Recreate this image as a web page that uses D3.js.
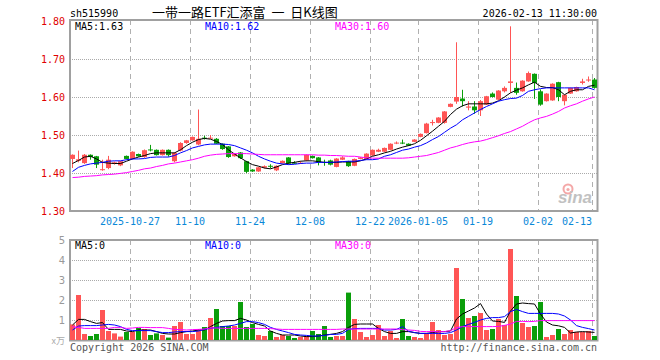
<!DOCTYPE html>
<html>
<head>
<meta charset="utf-8">
<script src="https://cdn.jsdelivr.net/npm/d3@7"></script>
<style>
body { margin: 0; background: #fff; }
svg { display: block; }
.mono { font-family: "DejaVu Sans Mono", monospace; font-size: 10px; }
</style>
</head>
<body>
<script>
// trading days shown (one candle each)
var dates = [
  "2025-10-13","2025-10-14","2025-10-15","2025-10-16","2025-10-17",
  "2025-10-20","2025-10-21","2025-10-22","2025-10-23","2025-10-24",
  "2025-10-27","2025-10-28","2025-10-29","2025-10-30","2025-10-31",
  "2025-11-03","2025-11-04","2025-11-05","2025-11-06","2025-11-07",
  "2025-11-10","2025-11-11","2025-11-12","2025-11-13","2025-11-14",
  "2025-11-17","2025-11-18","2025-11-19","2025-11-20","2025-11-21",
  "2025-11-24","2025-11-25","2025-11-26","2025-11-27","2025-11-28",
  "2025-12-01","2025-12-02","2025-12-03","2025-12-04","2025-12-05",
  "2025-12-08","2025-12-09","2025-12-10","2025-12-11","2025-12-12",
  "2025-12-15","2025-12-16","2025-12-17","2025-12-18","2025-12-19",
  "2025-12-22","2025-12-23","2025-12-24","2025-12-25","2025-12-26",
  "2025-12-29","2025-12-30","2025-12-31",
  "2026-01-05","2026-01-06","2026-01-07","2026-01-08","2026-01-09",
  "2026-01-12","2026-01-13","2026-01-14","2026-01-15","2026-01-16",
  "2026-01-19","2026-01-20","2026-01-21","2026-01-22","2026-01-23",
  "2026-01-26","2026-01-27","2026-01-28","2026-01-29","2026-01-30",
  "2026-02-02","2026-02-03","2026-02-04","2026-02-05","2026-02-06",
  "2026-02-09","2026-02-10","2026-02-11","2026-02-12","2026-02-13"
];

var openP = [
  1.437,1.432,1.426,1.448,1.444,1.408,1.413,1.424,1.420,1.445,
  1.437,1.450,1.442,1.462,1.461,1.447,1.461,1.431,1.459,1.479,
  1.486,1.475,1.493,1.491,1.490,1.477,1.470,1.444,1.454,1.431,
  1.409,1.404,1.414,1.419,1.407,1.426,1.441,1.427,1.425,1.433,
  1.445,1.441,1.429,1.433,1.416,1.435,1.431,1.419,1.437,1.437,
  1.446,1.456,1.456,1.461,1.478,1.480,1.477,1.482,1.495,1.505,
  1.532,1.532,1.532,1.574,1.588,1.596,1.572,1.575,1.565,1.580,
  1.609,1.593,1.615,1.637,1.624,1.615,1.641,1.661,1.615,1.589,
  1.591,1.639,1.589,1.609,1.615,1.637,1.644,1.646
];
var highP = [
  1.449,1.459,1.450,1.449,1.445,1.435,1.445,1.430,1.432,1.446,
  1.457,1.451,1.462,1.474,1.462,1.462,1.462,1.455,1.481,1.487,
  1.496,1.567,1.498,1.500,1.492,1.478,1.471,1.451,1.455,1.432,
  1.410,1.416,1.420,1.423,1.420,1.433,1.442,1.431,1.431,1.449,
  1.446,1.442,1.435,1.435,1.439,1.444,1.432,1.438,1.442,1.452,
  1.462,1.464,1.467,1.478,1.483,1.488,1.478,1.489,1.504,1.532,
  1.540,1.547,1.563,1.583,1.744,1.619,1.589,1.589,1.592,1.603,
  1.612,1.618,1.628,1.786,1.638,1.644,1.667,1.662,1.620,1.610,
  1.636,1.640,1.607,1.625,1.627,1.648,1.654,1.650
];
var lowP = [
  1.413,1.428,1.424,1.435,1.413,1.406,1.410,1.422,1.418,1.436,
  1.436,1.443,1.440,1.457,1.446,1.446,1.443,1.428,1.457,1.477,
  1.485,1.473,1.488,1.490,1.476,1.461,1.440,1.443,1.437,1.400,
  1.403,1.403,1.412,1.412,1.405,1.425,1.422,1.424,1.424,1.431,
  1.438,1.420,1.419,1.420,1.415,1.434,1.416,1.418,1.436,1.436,
  1.445,1.455,1.455,1.460,1.476,1.476,1.471,1.481,1.494,1.504,
  1.525,1.531,1.530,1.573,1.582,1.575,1.565,1.556,1.550,1.579,
  1.599,1.592,1.612,1.611,1.606,1.614,1.640,1.595,1.577,1.588,
  1.590,1.589,1.578,1.608,1.614,1.633,1.640,1.622
];
var closeP = [
  1.448,1.436,1.448,1.442,1.422,1.410,1.435,1.428,1.431,1.437,
  1.456,1.444,1.460,1.461,1.447,1.461,1.447,1.453,1.479,1.486,
  1.495,1.490,1.492,1.493,1.477,1.463,1.442,1.450,1.439,1.403,
  1.404,1.415,1.418,1.418,1.419,1.432,1.425,1.426,1.427,1.448,
  1.439,1.428,1.428,1.422,1.438,1.441,1.418,1.437,1.441,1.451,
  1.461,1.461,1.466,1.477,1.480,1.479,1.472,1.488,1.503,1.530,
  1.534,1.546,1.562,1.582,1.600,1.589,1.575,1.565,1.589,1.602,
  1.600,1.617,1.624,1.641,1.611,1.643,1.663,1.637,1.580,1.609,
  1.635,1.600,1.606,1.624,1.626,1.641,1.646,1.624
];

// volume, in units of 万 as labelled on the axis
var volume = [
  0.78,2.25,0.30,0.20,0.30,1.50,0.45,0.33,0.17,0.40,
  0.40,0.60,0.55,0.25,0.33,0.25,0.12,0.70,0.90,0.30,
  0.30,0.55,0.65,1.10,1.55,0.70,0.70,0.70,1.90,0.65,
  0.80,0.25,0.20,0.45,0.15,0.25,0.20,0.10,0.15,0.20,
  0.45,0.30,0.70,0.15,0.20,0.20,2.37,1.05,0.40,0.15,
  0.25,0.75,0.20,0.45,0.10,1.05,0.20,0.15,0.10,0.30,
  0.90,0.50,0.25,0.30,3.60,2.05,1.10,1.20,1.35,0.50,
  0.55,1.05,0.75,4.55,2.20,0.85,0.65,0.70,1.90,0.15,
  0.25,0.55,0.30,0.50,0.40,0.40,0.45,0.20
];

// price moving averages as plotted
var ma5 = [
  1.425,1.433,1.442,1.444,1.437,1.428,1.426,1.425,1.425,1.431,
  1.437,1.442,1.446,1.451,1.453,1.453,1.453,1.453,1.461,1.472,
  1.481,1.488,1.491,1.489,1.483,1.475,1.461,1.450,1.440,1.430,
  1.422,1.418,1.413,1.411,1.416,1.422,1.426,1.428,1.431,1.432,
  1.432,1.430,1.428,1.428,1.428,1.429,1.429,1.429,1.432,1.437,
  1.444,1.448,1.453,1.457,1.463,1.468,1.472,1.477,1.486,1.498,
  1.510,1.523,1.536,1.554,1.568,1.577,1.582,1.582,1.582,1.582,
  1.584,1.590,1.600,1.611,1.618,1.624,1.632,1.639,1.628,1.625,
  1.625,1.619,1.606,1.615,1.619,1.619,1.628,1.631
];
var ma10 = [
  1.404,1.415,1.420,1.424,1.426,1.428,1.431,1.432,1.432,1.435,
  1.437,1.437,1.438,1.441,1.442,1.442,1.442,1.446,1.453,1.459,
  1.466,1.470,1.474,1.476,1.476,1.476,1.475,1.472,1.466,1.460,
  1.453,1.444,1.437,1.431,1.426,1.424,1.422,1.423,1.425,1.426,
  1.426,1.428,1.428,1.428,1.429,1.430,1.431,1.431,1.433,1.435,
  1.435,1.437,1.444,1.448,1.454,1.460,1.463,1.468,1.472,1.479,
  1.488,1.496,1.507,1.518,1.527,1.540,1.549,1.558,1.567,1.575,
  1.582,1.589,1.593,1.596,1.597,1.604,1.615,1.619,1.622,1.624,
  1.624,1.624,1.624,1.624,1.624,1.624,1.624,1.619
];
var ma30 = [
  1.388,1.389,1.391,1.392,1.393,1.395,1.396,1.397,1.399,1.401,
  1.404,1.407,1.411,1.413,1.417,1.420,1.424,1.426,1.429,1.432,
  1.435,1.439,1.444,1.447,1.449,1.450,1.451,1.451,1.451,1.451,
  1.450,1.449,1.448,1.448,1.448,1.448,1.448,1.448,1.448,1.448,
  1.448,1.447,1.447,1.446,1.446,1.445,1.444,1.444,1.442,1.440,
  1.439,1.439,1.439,1.439,1.439,1.439,1.440,1.442,1.444,1.446,
  1.450,1.454,1.460,1.466,1.470,1.475,1.479,1.482,1.484,1.488,
  1.493,1.498,1.504,1.509,1.516,1.523,1.532,1.540,1.545,1.549,
  1.555,1.562,1.571,1.577,1.582,1.589,1.595,1.600
];

// volume moving averages as plotted
var vma5 = [
  0.75,1.03,1.03,0.92,0.83,0.87,0.53,0.53,0.53,0.45,
  0.42,0.50,0.50,0.50,0.42,0.33,0.30,0.30,0.37,0.42,
  0.45,0.50,0.50,0.67,0.83,0.95,0.97,0.97,1.08,1.00,
  0.87,0.78,0.70,0.45,0.33,0.25,0.25,0.25,0.20,0.17,
  0.17,0.20,0.25,0.28,0.33,0.42,0.63,0.78,0.80,0.80,
  0.80,0.58,0.42,0.33,0.33,0.42,0.42,0.37,0.33,0.33,
  0.37,0.42,0.42,0.45,1.05,1.30,1.45,1.60,1.82,1.30,
  0.95,0.93,0.88,1.45,1.80,1.85,1.82,1.80,1.30,0.90,
  0.75,0.71,0.63,0.35,0.40,0.42,0.40,0.38
];
var vma10 = [
  0.50,0.70,0.72,0.72,0.72,0.75,0.78,0.75,0.67,0.53,
  0.47,0.47,0.47,0.47,0.42,0.37,0.37,0.40,0.42,0.42,
  0.42,0.45,0.53,0.58,0.63,0.67,0.70,0.75,0.83,0.92,
  0.92,0.87,0.78,0.63,0.53,0.45,0.37,0.28,0.25,0.23,
  0.20,0.20,0.23,0.28,0.28,0.33,0.53,0.57,0.58,0.58,
  0.58,0.58,0.50,0.50,0.53,0.67,0.44,0.37,0.33,0.33,
  0.33,0.33,0.33,0.37,0.50,0.67,0.78,0.88,1.00,1.08,
  1.12,1.12,1.17,1.42,1.53,1.42,1.33,1.33,1.33,1.33,
  1.33,1.30,1.20,1.00,0.72,0.63,0.57,0.50
];
var vma30 = [
  0.67,0.63,0.58,0.58,0.58,0.58,0.58,0.63,0.63,0.58,
  0.60,0.63,0.63,0.62,0.62,0.62,0.58,0.53,0.52,0.50,
  0.52,0.53,0.55,0.60,0.60,0.58,0.58,0.58,0.58,0.58,
  0.58,0.58,0.58,0.57,0.55,0.53,0.53,0.53,0.53,0.53,
  0.53,0.53,0.53,0.53,0.53,0.55,0.55,0.55,0.55,0.55,
  0.55,0.55,0.55,0.55,0.55,0.52,0.50,0.48,0.43,0.42,
  0.42,0.42,0.42,0.47,0.62,0.67,0.67,0.67,0.67,0.67,
  0.67,0.68,0.73,0.80,0.93,0.93,0.92,0.93,0.97,0.97,
  0.97,0.97,0.97,0.97,0.97,0.97,0.97,0.97
];

var tickDates = ["2025-10-27","2025-11-10","2025-11-24","2025-12-08","2025-12-22",
                 "2026-01-05","2026-01-19","2026-02-02","2026-02-13"];
var tickLabels = ["2025-10-27","11-10","11-24","12-08","12-22","2026-01-05","01-19","02-02","02-13"];
var priceTicks = [1.30, 1.40, 1.50, 1.60, 1.70, 1.80];
var volTicks = [1, 2, 3, 4, 5];
var maLabels = ["MA5:", "MA10:", "MA30:"];
var volMaLabels = ["MA5:0", "MA10:0", "MA30:0"];

var RED = "#ff5555", GREEN = "#0a9e0a", GRID = "#aaaaaa", FRAME = "#a0a0a0";
var maColors = ["#000000", "#0000ff", "#ff00ff"];

var svg = d3.select("body").append("svg")
    .attr("width", 660)
    .attr("height", 360);

// scales
var x = d3.scaleBand().domain(dates).range([70, 598]);
var y = d3.scaleLinear().domain([1.30, 1.80]).range([211, 21]);
var yv = d3.scaleLinear().domain([0, 5]).range([340, 240]);
var bw = x.bandwidth();

// grid: dotted horizontals
svg.append("g").selectAll("line")
    .data(priceTicks.slice(1, -1))
  .enter().append("line")
    .attr("x1", 70).attr("x2", 597)
    .attr("y1", function(d) { return Math.round(y(d)) + 0.5; })
    .attr("y2", function(d) { return Math.round(y(d)) + 0.5; })
    .attr("stroke", GRID).attr("stroke-dasharray", "1,1");
svg.append("g").selectAll("line")
    .data(volTicks.slice(0, -1))
  .enter().append("line")
    .attr("x1", 70).attr("x2", 597)
    .attr("y1", function(d) { return Math.round(yv(d)) + 0.5; })
    .attr("y2", function(d) { return Math.round(yv(d)) + 0.5; })
    .attr("stroke", GRID).attr("stroke-dasharray", "1,1");

// grid: dashed verticals at the labelled dates
[[20, 211], [240, 340]].forEach(function(r) {
  svg.append("g").selectAll("line")
      .data(tickDates)
    .enter().append("line")
      .attr("x1", function(d) { return x(d) + 0.5; })
      .attr("x2", function(d) { return x(d) + 0.5; })
      .attr("y1", r[0]).attr("y2", r[1])
      .attr("stroke", "#b0b0b0").attr("stroke-dasharray", "5,4");
});

// sina watermark
var wm = svg.append("g").attr("opacity", 0.6);
wm.append("circle").attr("cx", 568).attr("cy", 189).attr("r", 4.5)
    .attr("fill", "none").attr("stroke", "#ee7070").attr("stroke-width", 2);
wm.append("circle").attr("cx", 568).attr("cy", 189.5).attr("r", 1.6).attr("fill", "#ee7070");
wm.append("text").attr("x", 558).attr("y", 203)
    .style("font", "italic bold 17px 'Liberation Sans', sans-serif")
    .attr("fill", "#999").text("sina");

// frames
svg.append("rect").attr("x", 70).attr("y", 20).attr("width", 527.5).attr("height", 191)
    .attr("fill", "none").attr("stroke", FRAME).attr("stroke-width", 2);
svg.append("rect").attr("x", 70).attr("y", 240).attr("width", 527.5).attr("height", 100.5)
    .attr("fill", "none").attr("stroke", FRAME).attr("stroke-width", 2);

var idx = d3.range(dates.length);
var isUp = function(i) { return closeP[i] >= openP[i]; };
var col = function(i) { return isUp(i) ? RED : GREEN; };

// candles
var candles = svg.append("g");
candles.selectAll(".wick")
    .data(idx)
  .enter().append("line")
    .attr("class", "wick")
    .attr("x1", function(i) { return x(dates[i]) + 2.5; })
    .attr("x2", function(i) { return x(dates[i]) + 2.5; })
    .attr("y1", function(i) { return y(highP[i]); })
    .attr("y2", function(i) { return y(lowP[i]); })
    .attr("stroke", col);
candles.selectAll(".body")
    .data(idx)
  .enter().append("rect")
    .attr("class", "body")
    .attr("x", function(i) { return x(dates[i]); })
    .attr("width", bw - 1)
    .attr("y", function(i) { return y(Math.max(openP[i], closeP[i])); })
    .attr("height", function(i) { return Math.max(1, Math.abs(y(openP[i]) - y(closeP[i]))); })
    .attr("fill", col);

// volume bars
svg.append("g").selectAll("rect")
    .data(idx)
  .enter().append("rect")
    .attr("x", function(i) { return x(dates[i]); })
    .attr("width", bw - 1)
    .attr("y", function(i) { return yv(volume[i]); })
    .attr("height", function(i) { return yv(0) - yv(volume[i]); })
    .attr("fill", col);

// moving average lines
function maLine(arr, scale) {
  return d3.line()
      .x(function(i) { return x(dates[i]) + 2.5; })
      .y(function(i) { return scale(arr[i]); })(idx);
}
[ma5, ma10, ma30].forEach(function(arr, k) {
  svg.append("path").attr("d", maLine(arr, y))
      .attr("fill", "none").attr("stroke", maColors[k]).attr("stroke-width", 1);
});
[vma5, vma10, vma30].forEach(function(arr, k) {
  svg.append("path").attr("d", maLine(arr, yv))
      .attr("fill", "none").attr("stroke", maColors[k]).attr("stroke-width", 1);
});

// MA legends
var lastMa = [ma5, ma10, ma30].map(function(a) { return a[a.length - 1]; });
svg.append("g").selectAll("text")
    .data(maLabels)
  .enter().append("text")
    .attr("class", "mono")
    .attr("x", function(d, k) { return 75 + 130 * k; })
    .attr("y", 30)
    .attr("fill", function(d, k) { return maColors[k]; })
    .text(function(d, k) { return d + lastMa[k].toFixed(2); });
svg.append("g").selectAll("text")
    .data(volMaLabels)
  .enter().append("text")
    .attr("class", "mono")
    .attr("x", function(d, k) { return 75 + 130 * k; })
    .attr("y", 249)
    .attr("fill", function(d, k) { return maColors[k]; })
    .text(function(d) { return d; });

// price axis labels
svg.append("g").selectAll("text")
    .data(priceTicks)
  .enter().append("text")
    .attr("class", "mono")
    .attr("x", 65).attr("y", function(d) { return y(d) + 4; })
    .attr("text-anchor", "end").attr("fill", "#e00000")
    .text(function(d) { return d.toFixed(2); });

// volume axis labels
svg.append("g").selectAll("text")
    .data(volTicks)
  .enter().append("text")
    .attr("x", 65).attr("y", function(d) { return yv(d) + 4; })
    .attr("text-anchor", "end").attr("fill", "#999")
    .style("font", "10px 'DejaVu Sans', sans-serif")
    .text(function(d) { return d; });
svg.append("text").attr("x", 65).attr("y", 344)
    .attr("text-anchor", "end").attr("fill", "#aaa")
    .style("font", "9px 'Noto Sans CJK SC', sans-serif")
    .text("x万");

// date labels
svg.append("g").selectAll("text")
    .data(tickDates)
  .enter().append("text")
    .attr("class", "mono")
    .attr("x", function(d) { return x(d); })
    .attr("y", 225)
    .attr("text-anchor", function(d, i) { return i === tickDates.length - 1 ? "end" : "middle"; })
    .attr("fill", "#0a88d8")
    .text(function(d, i) { return tickLabels[i]; });

// header and footer
svg.append("text").attr("class", "mono").attr("x", 70).attr("y", 17).text("sh515990");
svg.append("text").attr("x", 152).attr("y", 17)
    .style("font", "13px 'Noto Sans CJK SC', sans-serif")
    .style("white-space", "pre")
    .text("一带一路ETF汇添富  一  日K线图");
svg.append("text").attr("class", "mono").attr("x", 597).attr("y", 17)
    .attr("text-anchor", "end").text("2026-02-13 11:30:00");
svg.append("text").attr("class", "mono").attr("x", 70).attr("y", 351)
    .attr("fill", "#555").text("Copyright 2026 SINA.COM");
svg.append("text").attr("class", "mono").attr("x", 597).attr("y", 351)
    .attr("text-anchor", "end").attr("fill", "#555").text("http://finance.sina.com.cn");
</script>
</body>
</html>
